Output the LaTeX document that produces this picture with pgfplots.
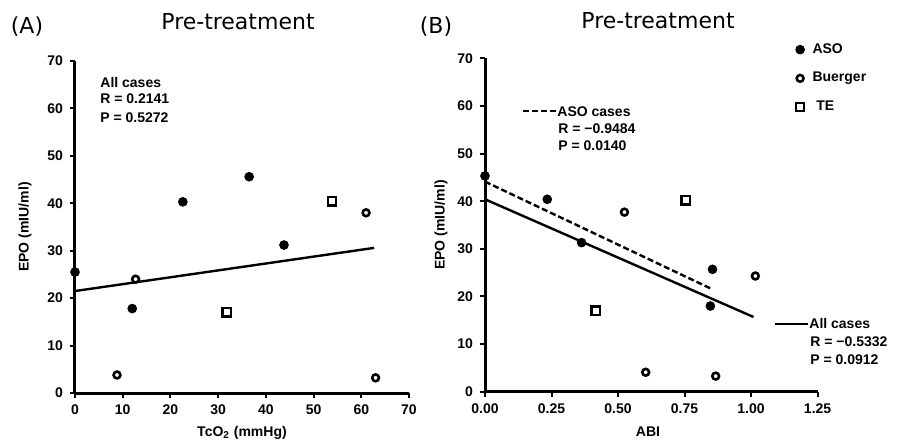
\documentclass[border=0pt]{standalone}
\usepackage{fontspec}
\setmainfont{Liberation Sans}
\newfontfamily\titlefont{DejaVu Sans}
\usepackage{pgfplots}
\pgfplotsset{compat=1.18}

\pgfplotsset{
  epo/.style={
    scale only axis, clip=false,
    axis x line*=bottom, axis y line*=left,
    axis line style={line width=1.5pt},
    tick style={line width=1pt, black},
    tick align=outside, major tick length=2.5pt,
    ymin=0, ymax=70, ytick={0,10,...,70},
    /pgf/number format/assume math mode=true,
    tick label style={font=\bfseries\fontsize{7}{8}\selectfont},
    label style={font=\bfseries\fontsize{7}{8}\selectfont},
    ylabel={EPO (mIU/ml)},
  },
  aso/.style={only marks, mark=*, mark size=2.2pt, black},
  bue/.style={only marks, mark=o, mark size=1.7pt, black, line width=1.3pt, mark options={fill=white}},
  te/.style={only marks, mark=square, mark size=2.1pt, black, line width=1.1pt, mark options={fill=white}},
}

\begin{document}
\begin{tikzpicture}
\path[use as bounding box] (0,0) rectangle (450.5pt,223.5pt);

% (A) TcO2
\begin{axis}[epo,
  at={(37.5pt,27pt)}, anchor=south west,
  width=167pt, height=166pt,
  xmin=0, xmax=70, xtick={0,10,...,70},
  xlabel={TcO\textsubscript{2} (mmHg)},
  xlabel style={at={(axis description cs:0.5,-0.12)}, anchor=center},
  ylabel style={at={(axis description cs:-0.15,0.5)}, anchor=center},
]
\addplot[aso] coordinates {(0,25.5) (12,17.8) (22.6,40.3) (36.5,45.6) (43.8,31.2)};
\addplot[bue] coordinates {(12.7,24.0) (8.8,3.8) (63,3.2) (61,38.0)};
\addplot[te] coordinates {(53.9,40.4) (31.8,17.0)};
\addplot[black, line width=1.2pt] coordinates {(0,21.5) (62.7,30.6)};
\end{axis}

% (B) ABI
\begin{axis}[epo,
  at={(242.5pt,27.6pt)}, anchor=south west,
  width=166.3pt, height=166.8pt,
  xmin=0, xmax=1.25, xtick={0,0.25,...,1.25},
  xticklabels={0.00,0.25,0.50,0.75,1.00,1.25},
  xlabel={ABI},
  xlabel style={at={(axis description cs:0.49,-0.12)}, anchor=center},
  ylabel style={at={(axis description cs:-0.132,0.5)}, anchor=center},
  legend style={draw=none, fill=none, at={(axis description cs:0.915,1.07)},
    anchor=north west, row sep=4pt, font=\bfseries\fontsize{7}{8}\selectfont},
  legend cell align=left,
]
\addplot[aso] coordinates {(0,45.3) (0.234,40.4) (0.363,31.3) (0.855,25.7) (0.847,18.0)};
\addlegendentry{\hspace{2pt}ASO}
\addplot[bue] coordinates {(0.524,37.7) (1.016,24.3) (0.604,4.1) (0.867,3.3)};
\addlegendentry{\hspace{2pt}Buerger}
\addplot[te] coordinates {(0.754,40.2) (0.416,17.0)};
\addlegendentry{\hspace{2pt}\ TE}
\addplot[black, line width=1.2pt, forget plot] coordinates {(0,40.4) (1.009,15.7)};
\addplot[black, line width=1.2pt, dash pattern=on 3pt off 1.5pt, forget plot] coordinates {(0,44.1) (0.855,21.5)};
\end{axis}

% titles
\node[font=\titlefont\fontsize{11}{13}\selectfont] at (13.5pt,210pt) {(A)};
\node[font=\titlefont\fontsize{11}{13}\selectfont] at (119pt,212.5pt) {Pre-treatment};
\node[font=\titlefont\fontsize{11}{13}\selectfont] at (218pt,210pt) {(B)};
\node[font=\titlefont\fontsize{11}{13}\selectfont] at (329pt,213pt) {Pre-treatment};

% statistics text
\begin{scope}[every node/.style={font=\bfseries\fontsize{7}{8}\selectfont, inner sep=0pt, anchor=base west}]
\node at (50pt,180pt) {All cases};
\node at (50pt,172pt) {R = 0.2141};
\node at (50pt,162.5pt) {P = 0.5272};

\draw[line width=1.2pt, dash pattern=on 3pt off 1.5pt] (261.5pt,168pt) -- (278pt,168pt);
\node at (278.5pt,165.5pt) {ASO cases};
\node at (279pt,157pt) {R = −0.9484};
\node at (279pt,148.5pt) {P = 0.0140};

\draw[line width=1.2pt] (387.5pt,61.5pt) -- (404pt,61.5pt);
\node at (404.5pt,59.5pt) {All cases};
\node at (405pt,50.5pt) {R = −0.5332};
\node at (405pt,41.5pt) {P = 0.0912};
\end{scope}
\end{tikzpicture}
\end{document}
